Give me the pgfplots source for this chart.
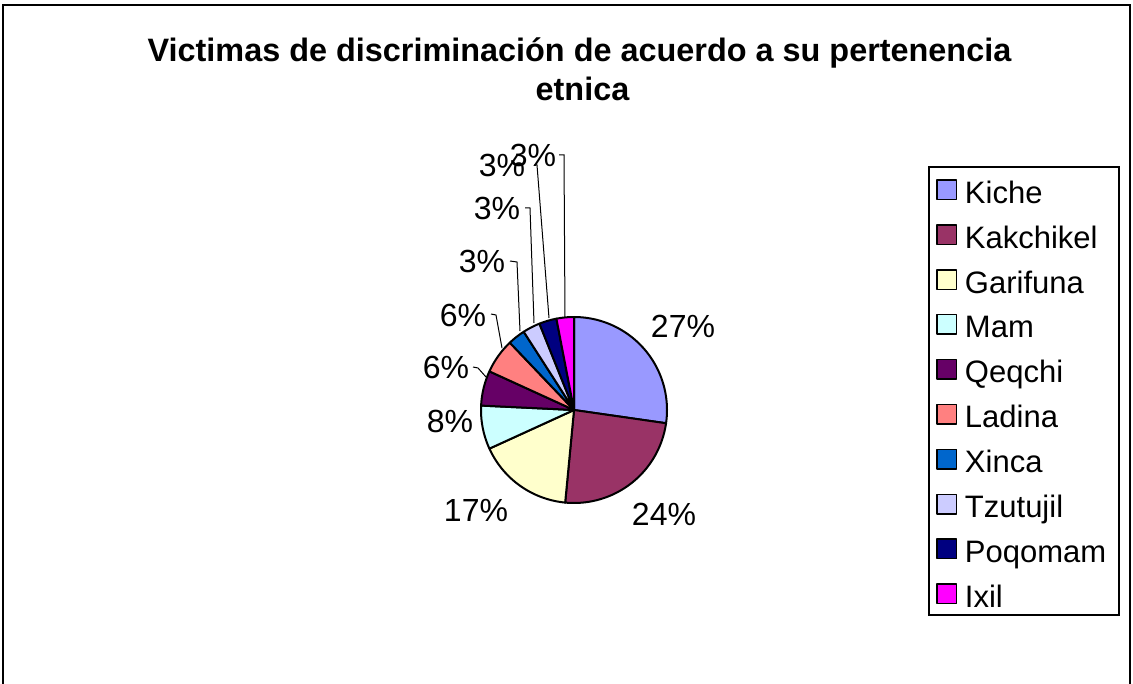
\documentclass[border=0pt]{standalone}
\usepackage{pgfplots}
\pgfplotsset{compat=1.18}
\usepackage{pgfplotstable}
\usepackage{fontspec}
\setmainfont{Liberation Sans}

\definecolor{pie0}{HTML}{9999FF}
\definecolor{pie1}{HTML}{993366}
\definecolor{pie2}{HTML}{FFFFCC}
\definecolor{pie3}{HTML}{CCFFFF}
\definecolor{pie4}{HTML}{660066}
\definecolor{pie5}{HTML}{FF8080}
\definecolor{pie6}{HTML}{0066CC}
\definecolor{pie7}{HTML}{CCCCFF}
\definecolor{pie8}{HTML}{000080}
\definecolor{pie9}{HTML}{FF00FF}

\pgfplotstableread{
label value
Kiche 18
Kakchikel 16
Garifuna 11
Mam 5
Qeqchi 4
Ladina 4
Xinca 2
Tzutujil 2
Poqomam 2
Ixil 2
}\pietable

\begin{document}
\begin{tikzpicture}
\begin{axis}[
 at={(0pt,0pt)}, anchor=south west,
 width=1133pt, height=684pt, scale only axis,
 xmin=0, xmax=1133, ymin=0, ymax=684, y dir=reverse,
 hide axis, clip=false,
 legend image code/.code={\draw[#1, line width=1.5pt] (0pt,-9.75pt) rectangle (19.5pt,9.75pt);},
 legend cell align=left,
 legend style={draw=none, fill=none, inner sep=0pt,
   at={(axis cs:936.25,176)}, anchor=north west,
   font=\fontsize{31}{37}\selectfont, row sep=17.9pt,
   nodes={inner sep=0pt, text height=27pt, text depth=0pt},
   /tikz/every odd column/.style={column sep=7.5pt}},
]
\pgfmathsetmacro\cum{0}
\pgfplotsforeachungrouped \i in {0,...,9}{%
  \pgfplotstablegetelem{\i}{value}\of\pietable
  \let\v=\pgfplotsretval
  \pgfplotstablegetelem{\i}{label}\of\pietable
  \let\lab=\pgfplotsretval
  \pgfmathsetmacro\ta{-90+\cum/66*360}%
  \pgfmathsetmacro\cum{\cum+\v}%
  \pgfmathsetmacro\tb{-90+\cum/66*360}%
  \edef\temp{\noexpand\addplot[fill=pie\i, draw=black, line width=2pt, line join=round, domain=\ta:\tb, samples=60] ({574+93*cos(x)},{410+93*sin(x)}) -- (axis cs:574,410) -- cycle; \noexpand\addlegendentry{\lab}}%
  \temp
}

% title
\node[font=\bfseries\fontsize{32.4}{39}\selectfont, anchor=base] at (axis cs:579.5,62) {Victimas de discriminación de acuerdo a su pertenencia};
\node[font=\bfseries\fontsize{32.4}{39}\selectfont, anchor=base] at (axis cs:582.5,101) {etnica};

% percentage labels
\begin{scope}[every node/.style={font=\fontsize{32}{38}\selectfont, inner sep=0pt}]
\node at (axis cs:683,326) {27\%};
\node at (axis cs:664,514) {24\%};
\node at (axis cs:476,510) {17\%};
\node at (axis cs:450,421) {8\%};
\node at (axis cs:446,367) {6\%};
\node at (axis cs:463,315) {6\%};
\node at (axis cs:482,261) {3\%};
\node at (axis cs:497,208) {3\%};
\node at (axis cs:502,165) {3\%};
\node at (axis cs:533,155) {3\%};
\end{scope}

% leader lines
\begin{scope}[line width=1pt]
\draw (axis cs:473,367) -- (axis cs:478,368) -- (axis cs:486,377);
\draw (axis cs:491,314) -- (axis cs:496,315) -- (axis cs:502,348);
\draw (axis cs:510,261) -- (axis cs:517,262) -- (axis cs:520,331);
\draw (axis cs:525,208) -- (axis cs:530,208) -- (axis cs:534,323);
\draw (axis cs:534,165) -- (axis cs:537,165) -- (axis cs:549,318);
\draw (axis cs:559,155) -- (axis cs:564,155) -- (axis cs:565,318);
\end{scope}

% legend frame
\draw[line width=1.5pt] (axis cs:929,167) rectangle (axis cs:1119,615);
% chart frame
\draw[line width=1.5pt] (axis cs:3,700) -- (axis cs:3,5) -- (axis cs:1130,5) -- (axis cs:1130,700);
\end{axis}
\pgfresetboundingbox
\useasboundingbox (0,0) rectangle (1133pt,684pt);
\end{tikzpicture}
\end{document}
